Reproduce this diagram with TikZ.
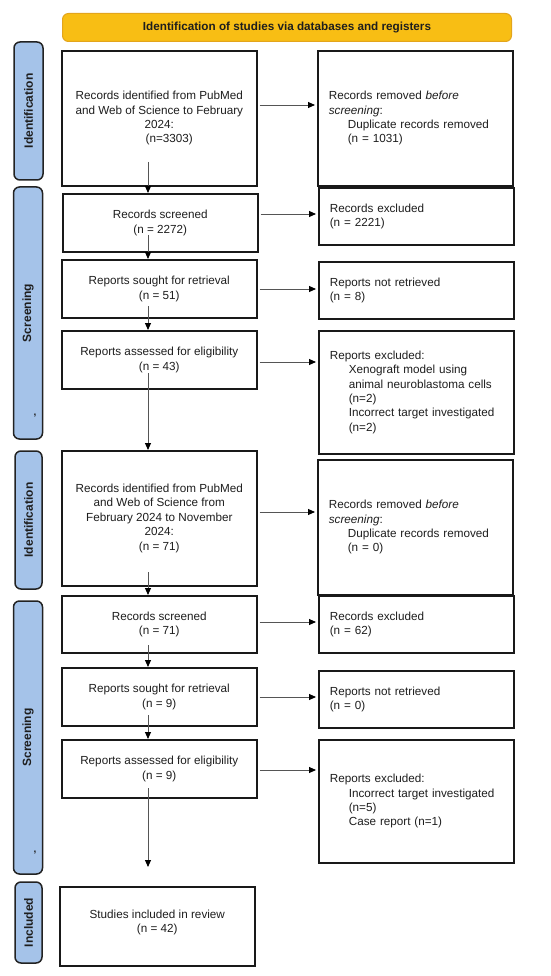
\documentclass[tikz,border=0pt]{standalone}
\usepackage{fontspec}
\setmainfont{Liberation Sans}
\usetikzlibrary{arrows.meta,calc}
\definecolor{hdrfill}{HTML}{F8BE14}
\definecolor{hdrdraw}{HTML}{E3A51C}
\definecolor{sidefill}{HTML}{A5C3E9}
\definecolor{sidedraw}{HTML}{222222}
\definecolor{txt}{HTML}{1E1E1E}
\definecolor{shaft}{HTML}{555555}
\newcommand\myind{\hspace*{19pt}}
\tikzset{
  box/.style={draw=black!90, line width=1.6pt, fill=white, anchor=north west, align=center, inner sep=0pt,
    minimum width=195pt, text=txt, font=\fontsize{11.7}{14.4}\selectfont},
  rbox/.style={draw=black!90, line width=1.6pt, fill=white, anchor=north west, align=left, inner ysep=0pt,
    inner xsep=11pt, text width=173pt, text=txt, font=\fontsize{11.7}{14.4}\selectfont},
  side/.style={draw=sidedraw, fill=sidefill, line width=1.5pt, rounded corners=6pt, rotate=90,
    minimum height=29pt, inner sep=0pt, text=txt, font=\bfseries\fontsize{12}{14}\selectfont},
  hdr/.style={draw=hdrdraw, fill=hdrfill, line width=1pt, rounded corners=6pt, anchor=north west,
    minimum width=449pt, minimum height=28pt, inner sep=0pt, text=txt, font=\bfseries\fontsize{11.7}{14}\selectfont},
  arr/.style={draw=shaft, line width=0.9pt, -{Triangle[length=7pt,width=6pt,color=black]}},
  comma/.style={text=txt, font=\bfseries\fontsize{10}{10}\selectfont, inner sep=0pt}
}
\begin{document}
\begin{tikzpicture}[x=1pt,y=-1pt]
\useasboundingbox (0,0) rectangle (550,976);
\fill[white] (0,0) rectangle (550,976);

% header
\node[hdr] (hdr) at (62,13) {Identification of studies via databases and registers};

% side labels
\node[side, minimum width=138pt] (l1) at (28.5,111) {Identification};
\node[side, minimum width=252pt] (l2) at (28,313) {Screening};
\node[comma] (c2) at (35,416) {,};
\node[side, minimum width=138pt, minimum height=27pt] (l3) at (28.5,520) {Identification};
\node[side, minimum width=273pt] (l4) at (28,737.5) {Screening};
\node[comma] (c4) at (35,853) {,};
\node[side, minimum width=81pt, minimum height=27pt] (l5) at (28.5,922.5) {Included};

% left boxes
\node[box, minimum height=135pt] (b1) at (61,50) {Records identified from PubMed\\and Web of Science to February\\2024:\\\hspace*{20pt}(n=3303)};
\node[box, minimum height=58pt] (b2) at (62,193) {Records screened\\(n = 2272)};
\node[box, minimum height=58pt] (b3) at (61,259) {Reports sought for retrieval\\(n = 51)};
\node[box, minimum height=58pt] (b4) at (61,330) {Reports assessed for eligibility\\(n = 43)};
\node[box, minimum height=135pt] (b5) at (61,450) {Records identified from PubMed\\and Web of Science from\\February 2024 to November\\2024:\\(n = 71)};
\node[box, minimum height=57pt] (b6) at (61,595) {Records screened\\(n = 71)};
\node[box, minimum height=58pt] (b7) at (61,667) {Reports sought for retrieval\\(n = 9)};
\node[box, minimum height=58pt] (b8) at (61,739) {Reports assessed for eligibility\\(n = 9)};
\node[box, minimum height=79pt] (b9) at (59,886) {Studies included in review\\(n = 42)\\[-4pt]};

% right boxes
\node[rbox, minimum height=135pt] (r1) at (317,50) {Records removed \textit{before}\\\textit{screening}:\\\myind Duplicate records removed\\\myind (n = 1031)};
\node[rbox, minimum height=57pt] (r2) at (318,187) {Records excluded\\(n = 2221)};
\node[rbox, minimum height=57pt] (r3) at (318,261) {Reports not retrieved\\(n = 8)};
\node[rbox, minimum height=123pt] (r4) at (318,330) {Reports excluded:\\\myind Xenograft model using\\\myind animal neuroblastoma cells\\\myind (n=2)\\\myind Incorrect target investigated\\\myind (n=2)};
\node[rbox, minimum height=135pt] (r5) at (317,459) {Records removed \textit{before}\\\textit{screening}:\\\myind Duplicate records removed\\\myind (n = 0)};
\node[rbox, minimum height=57pt] (r6) at (318,595) {Records excluded\\(n = 62)};
\node[rbox, minimum height=57pt] (r7) at (318,670) {Reports not retrieved\\(n = 0)};
\node[rbox, minimum height=123pt] (r8) at (318,739) {Reports excluded:\\\myind Incorrect target investigated\\\myind (n=5)\\\myind Case report (n=1)};

% horizontal arrow levels
\coordinate (h1) at (0,105);
\coordinate (h2) at (0,214);
\coordinate (h3) at (0,289);
\coordinate (h4) at (0,362);
\coordinate (h5) at (0,512);
\coordinate (h6) at (0,622);
\coordinate (h7) at (0,697);
\coordinate (h8) at (0,770);
\draw[arr, shorten <=2pt, shorten >=2pt] (b1.east |- h1) -- (r1.west |- h1);
\draw[arr, shorten <=2pt, shorten >=2pt] (b2.east |- h2) -- (r2.west |- h2);
\draw[arr, shorten <=2pt, shorten >=2pt] (b3.east |- h3) -- (r3.west |- h3);
\draw[arr, shorten <=2pt, shorten >=2pt] (b4.east |- h4) -- (r4.west |- h4);
\draw[arr, shorten <=2pt, shorten >=2pt] (b5.east |- h5) -- (r5.west |- h5);
\draw[arr, shorten <=2pt, shorten >=2pt] (b6.east |- h6) -- (r6.west |- h6);
\draw[arr, shorten <=2pt, shorten >=2pt] (b7.east |- h7) -- (r7.west |- h7);
\draw[arr, shorten <=2pt, shorten >=2pt] (b8.east |- h8) -- (r8.west |- h8);

% vertical arrow starts (inside boxes, below text)
\coordinate (s1) at (148,162);
\coordinate (s2) at (148,235);
\coordinate (s3) at (148,306);
\coordinate (s4) at (148,373);
\coordinate (s5) at (148,572);
\coordinate (s6) at (148,645);
\coordinate (s7) at (148,715);
\coordinate (s8) at (148,788);
\coordinate (e8) at (148,867);
\draw[arr] (s1) -- (s1 |- b2.north);
\draw[arr] (s2) -- (s2 |- b3.north);
\draw[arr] (s3) -- (s3 |- b4.north);
\draw[arr] (s4) -- (s4 |- b5.north);
\draw[arr] (s5) -- (s5 |- b6.north);
\draw[arr] (s6) -- (s6 |- b7.north);
\draw[arr] (s7) -- (s7 |- b8.north);
\draw[arr] (s8) -- (e8);
\end{tikzpicture}
\end{document}
